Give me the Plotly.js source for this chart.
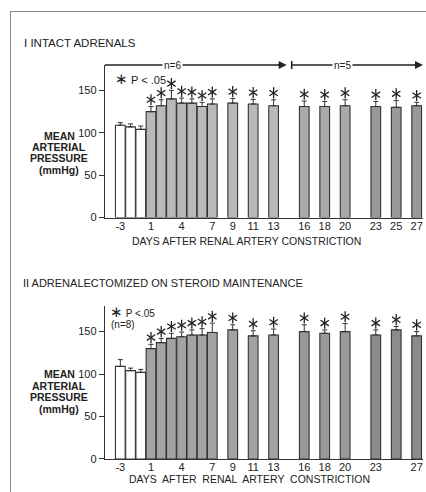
<!DOCTYPE html>
<html>
<head>
<meta charset="utf-8">
<script src="https://cdn.plot.ly/plotly-3.0.1.min.js"></script>
<style>
  html, body { margin: 0; padding: 0; background: #fff; }
  #wrap { position: relative; width: 426px; height: 492px; }
  #plot { width: 426px; height: 492px; }
  #frame { position: absolute; left: 10px; top: 11px; width: 416px; height: 481px;
           border-left: 1px solid #8a8a8a; border-top: 1px solid #8a8a8a; pointer-events: none; box-sizing: border-box; }
</style>
</head>
<body>
<div id="wrap"><div id="plot"></div><div id="frame"></div></div>
<script>
// ---- data ----
const days = [-3, -2, -1, 1, 2, 3, 4, 5, 6, 7, 9, 11, 13, 16, 18, 20, 23, 25, 27];
const mapIntact = [109, 107, 104, 125, 132, 140, 135, 135, 131, 134, 135, 134, 132, 131, 131, 132, 131, 130, 132];
const semIntact = [3, 3.5, 4, 6, 7, 10, 6, 5, 5, 6, 5.5, 5.5, 7, 6.5, 6, 7, 6, 8, 4];
const mapAdx = [109, 104, 102, 130, 137, 142, 144, 146, 146, 149, 152, 145, 146, 150, 148, 150, 146, 152, 145];
const semAdx = [8, 3, 3.5, 5, 5, 6, 5.5, 6, 7.5, 11, 6, 6, 7, 8, 4, 9.5, 6, 4, 5];
const significant = [false, false, false, true, true, true, true, true, true, true, true, true, true, true, true, true, true, true, true];
const tickDaysIntact = [-3, 1, 4, 7, 9, 11, 13, 16, 18, 20, 23, 25, 27];
const tickDaysAdx = [-3, 1, 4, 7, 9, 11, 13, 16, 18, 20, 23, 27];
const yTicks = [0, 50, 100, 150];

// baseline (pre-constriction) days sit directly before day 1
const slot = d => (d < 0 ? d + 1 : d);
const xs = days.map(slot);

// ---- styling ----
const FONT = 'Liberation Sans, Arial, sans-serif';
const INK = '#222';
const STAR_GAP = 8; // asterisk centre above the error-bar cap, in mmHg
function colorsFor(panel) {
  return days.map(d => {
    if (d < 0) return '#ffffff';
    if (panel === 1) {
      if (d <= 13) return '#b9b9b9';
      if (d <= 20) return '#aaaaaa';
      return '#999999';
    } else {
      if (d <= 13) return '#a3a3a3';
      if (d <= 20) return '#999999';
      return '#8c8c8c';
    }
  });
}

// layout geometry helpers (pixels -> paper)
const W = 426, H = 492, ML = 105, MR = 3, MT = 65, MB = 32.7;
const PW = W - ML - MR, PH = H - MT - MB;
const px = x => (x - ML) / PW;
const py = y => (H - MB - y) / PH;

function barTrace(vals, sems, xa, ya, panel) {
  return {
    type: 'bar', x: xs, y: vals, xaxis: xa, yaxis: ya, width: 0.95,
    marker: { color: colorsFor(panel), line: { color: '#333', width: 1.1 } },
    error_y: { type: 'data', symmetric: false, array: sems, arrayminus: sems.map(() => 0),
               color: '#333', thickness: 1, width: 2.5 },
    hoverinfo: 'skip', showlegend: false
  };
}
// six-armed asterisk = y-up + y-down open markers at the same point
function starTraces(vals, sems, xa, ya) {
  const sx = [], sy = [];
  xs.forEach((x, i) => { if (significant[i]) { sx.push(x); sy.push(vals[i] + sems[i] + STAR_GAP); } });
  return ['y-up-open', 'y-down-open'].map(sym => ({
    type: 'scatter', mode: 'markers', x: sx, y: sy, xaxis: xa, yaxis: ya,
    marker: { symbol: sym, size: 7, color: INK, line: { color: INK, width: 1.3 } },
    cliponaxis: false, hoverinfo: 'skip', showlegend: false
  }));
}

const data = [
  barTrace(mapIntact, semIntact, 'x', 'y', 1),
  ...starTraces(mapIntact, semIntact, 'x', 'y'),
  barTrace(mapAdx, semAdx, 'x2', 'y2', 2),
  ...starTraces(mapAdx, semAdx, 'x2', 'y2')
];

function xAxis(anchor, ticks) {
  return {
    anchor: anchor, range: [-3.5, 27.62], showgrid: false, zeroline: false,
    showline: true, linecolor: '#333', linewidth: 1.2, ticks: '', ticklabelstandoff: -2,
    tickvals: ticks.map(slot), ticktext: ticks.map(String),
    tickfont: { family: FONT, size: 11, color: INK }, fixedrange: true
  };
}
function yAxis(anchor, domain) {
  return {
    anchor: anchor, domain: domain, range: [0, 180], showgrid: false, zeroline: false,
    showline: true, linecolor: '#333', linewidth: 1.2, ticks: 'outside', ticklen: 5,
    tickcolor: '#333', tickvals: yTicks, tickfont: { family: FONT, size: 11, color: INK },
    fixedrange: true
  };
}

const topDomain = [py(217.7), 1];
const botDomain = [0, py(306.3)];

function ann(text, x, y, opts) {
  return Object.assign({ text: text, xref: 'paper', yref: 'paper', x: px(x), y: py(y),
    showarrow: false, xanchor: 'left', yanchor: 'middle',
    font: { family: FONT, size: 10.5, color: INK } }, opts || {});
}
const ylabLines = ['MEAN', 'ARTERIAL', 'PRESSURE', '(mmHg)'];
const ylabTop = [136, 147.5, 158.5, 170];
const ylabBot = [374.3, 386.5, 397.7, 409];
const bigStar = '<span style="font-size:15px">∗</span>';

const annotations = [
  ann('I INTACT ADRENALS', 22, 43, { font: { family: FONT, size: 11.5, color: INK } }),
  ann('II ADRENALECTOMIZED ON STEROID MAINTENANCE', 21, 283.3, { font: { family: FONT, size: 11, color: INK } }),
  ann(bigStar + ' P < .05', 113, 79, { font: { family: FONT, size: 11, color: INK } }),
  ann(bigStar + ' P <.05', 108, 311.5, { font: { family: FONT, size: 10, color: INK } }),
  ann('(n=8)', 109, 325, { font: { family: FONT, size: 10, color: INK } }),
  ann('DAYS AFTER RENAL ARTERY CONSTRICTION', 246, 241, { xanchor: 'center', font: { family: FONT, size: 10.5, color: INK } }),
  ann('DAYS  AFTER  RENAL  ARTERY  CONSTRICTION', 249, 479, { xanchor: 'center', font: { family: FONT, size: 10.5, color: INK } }),
  ann('n=6', 172, 65, { xanchor: 'center', bgcolor: '#fff', font: { family: FONT, size: 10, color: INK } }),
  ann('n=5', 342, 65, { xanchor: 'center', bgcolor: '#fff', font: { family: FONT, size: 10, color: INK } }),
  // arrowheads on the n= lines
  { xref: 'x', yref: 'paper', x: 14.28, y: 1, ax: -10, ay: 0, showarrow: true, arrowhead: 2,
    arrowsize: 1, arrowwidth: 1.6, arrowcolor: '#222', text: '' },
  { xref: 'x', yref: 'paper', x: 27.62, y: 1, ax: -10, ay: 0, showarrow: true, arrowhead: 2,
    arrowsize: 1, arrowwidth: 1.6, arrowcolor: '#222', text: '' }
];
ylabLines.forEach((t, i) => {
  annotations.push(ann(t, 59, ylabTop[i], { xanchor: 'center', font: { family: FONT, size: 10.5, color: INK, weight: 'bold' } }));
  annotations.push(ann(t, 59, ylabBot[i], { xanchor: 'center', font: { family: FONT, size: 10.5, color: INK, weight: 'bold' } }));
});

const shapes = [
  { type: 'line', xref: 'x', yref: 'paper', x0: -3.5, x1: 14.0, y0: 1, y1: 1, line: { color: '#222', width: 1.6 } },
  { type: 'line', xref: 'x', yref: 'paper', x0: 14.77, x1: 27.3, y0: 1, y1: 1, line: { color: '#222', width: 1.6 } },
  { type: 'line', xref: 'x', yref: 'paper', x0: 14.77, x1: 14.77, y0: 1 - 4 / PH, y1: 1 + 4 / PH, line: { color: '#222', width: 1.6 } }
];

const layout = {
  width: W, height: H, margin: { l: ML, r: MR, t: MT, b: MB },
  paper_bgcolor: '#fff', plot_bgcolor: '#fff', bargap: 0, showlegend: false,
  xaxis: xAxis('y', tickDaysIntact), yaxis: yAxis('x', topDomain),
  xaxis2: xAxis('y2', tickDaysAdx), yaxis2: yAxis('x2', botDomain),
  annotations: annotations, shapes: shapes, font: { family: FONT, color: INK }
};

Plotly.newPlot('plot', data, layout, { displayModeBar: false, staticPlot: true });
</script>
</body>
</html>
